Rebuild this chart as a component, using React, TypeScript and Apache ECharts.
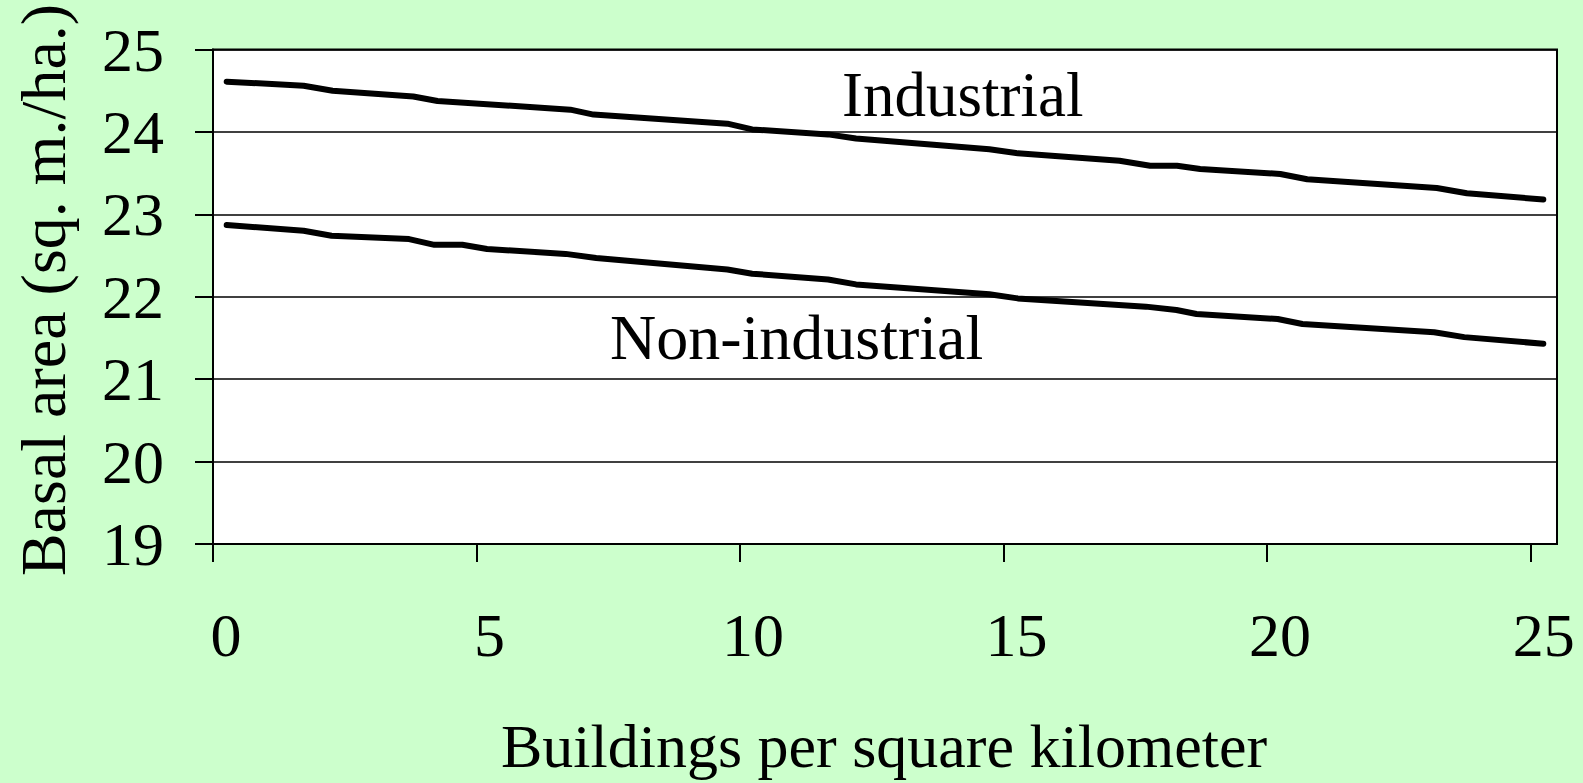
import React, { useEffect, useRef } from "react";
import * as echarts from "echarts";

const xTickValues = [0, 5, 10, 15, 20, 25];
const industrialX = [0.26, 1.72, 2.27, 3.8, 4.26, 6.78, 7.22, 9.76, 10.23, 11.67, 12.2, 14.73, 15.27, 17.2, 17.78, 18.29, 18.73, 20.25, 20.76, 23.22, 23.79, 25.24];
const industrialY = [24.61, 24.56, 24.5, 24.43, 24.375, 24.27, 24.21, 24.1, 24.03, 23.97, 23.92, 23.79, 23.74, 23.65, 23.59, 23.59, 23.55, 23.49, 23.425, 23.32, 23.255, 23.18];
const nonIndustrialX = [0.26, 1.72, 2.25, 3.72, 4.2, 4.73, 5.2, 6.69, 7.27, 9.76, 10.23, 11.67, 12.2, 14.73, 15.27, 17.7, 18.28, 18.66, 20.2, 20.67, 23.17, 23.74, 25.24];
const nonIndustrialY = [22.87, 22.8, 22.74, 22.7, 22.63, 22.63, 22.58, 22.52, 22.47, 22.33, 22.28, 22.21, 22.15, 22.03, 21.98, 21.88, 21.84, 21.79, 21.73, 21.67, 21.57, 21.51, 21.43];
const xTitle = "Buildings per square kilometer";
const yTitle = "Basal area (sq. m./ha.)";
const seriesNames = ["Industrial", "Non-industrial"];

const FONT = '"Liberation Serif", "Times New Roman", serif';
const FS = 62;

export default function App() {
  const ref = useRef<HTMLDivElement>(null);
  useEffect(() => {
    if (!ref.current) return;
    const chart = echarts.init(ref.current, null, { renderer: "svg" });
    const toPairs = (xs: number[], ys: number[]) => xs.map((x, i) => [x, ys[i]]);
    chart.setOption({
      animation: false,
      backgroundColor: "#CCFFCC",
      grid: {
        left: 213,
        top: 49.5,
        right: 26,
        bottom: 239,
        show: true,
        backgroundColor: "#ffffff",
        borderColor: "#000000",
        borderWidth: 2,
      },
      xAxis: {
        type: "value",
        min: 0,
        max: 25.5,
        interval: 5,
        splitLine: { show: false },
        axisLine: { show: true, lineStyle: { color: "#000", width: 2 } },
        axisTick: { show: true, length: 18, lineStyle: { color: "#000", width: 2 }, customValues: xTickValues },
        axisLabel: {
          customValues: xTickValues,
          margin: 60,
          color: "#000",
          fontFamily: FONT,
          fontSize: FS,
          padding: [0, 0, 0, 26],
        },
      },
      yAxis: {
        type: "value",
        min: 19,
        max: 25,
        interval: 1,
        splitLine: { show: true, lineStyle: { color: "#000", width: 1.5 } },
        axisLine: { show: true, lineStyle: { color: "#000", width: 2 } },
        axisTick: { show: true, length: 18, lineStyle: { color: "#000", width: 2 } },
        axisLabel: { margin: 49, color: "#000", fontFamily: FONT, fontSize: FS },
      },
      series: [
        {
          name: seriesNames[0],
          type: "line",
          data: toPairs(industrialX, industrialY),
          showSymbol: false,
          symbol: "none",
          lineStyle: { color: "#000", width: 6, cap: "round", join: "round" },
        },
        {
          name: seriesNames[1],
          type: "line",
          data: toPairs(nonIndustrialX, nonIndustrialY),
          showSymbol: false,
          symbol: "none",
          lineStyle: { color: "#000", width: 6, cap: "round", join: "round" },
        },
      ],
      graphic: [
        {
          type: "text",
          x: 842,
          y: 95,
          style: { text: seriesNames[0], font: `63px ${FONT}`, fill: "#000", textAlign: "left", textVerticalAlign: "middle" },
        },
        {
          type: "text",
          x: 610,
          y: 337,
          style: { text: seriesNames[1], font: `64px ${FONT}`, fill: "#000", textAlign: "left", textVerticalAlign: "middle" },
        },
        {
          type: "text",
          x: 884,
          y: 746,
          style: { text: xTitle, font: `${FS}px ${FONT}`, fill: "#000", textAlign: "center", textVerticalAlign: "middle" },
        },
        {
          type: "text",
          x: 43,
          y: 290,
          rotation: Math.PI / 2,
          style: { text: yTitle, font: `64px ${FONT}`, fill: "#000", textAlign: "center", textVerticalAlign: "middle" },
        },
      ],
    });
    return () => chart.dispose();
  }, []);
  return <div ref={ref} style={{ position: "absolute", left: 0, top: 0, width: 1583, height: 783 }} />;
}
